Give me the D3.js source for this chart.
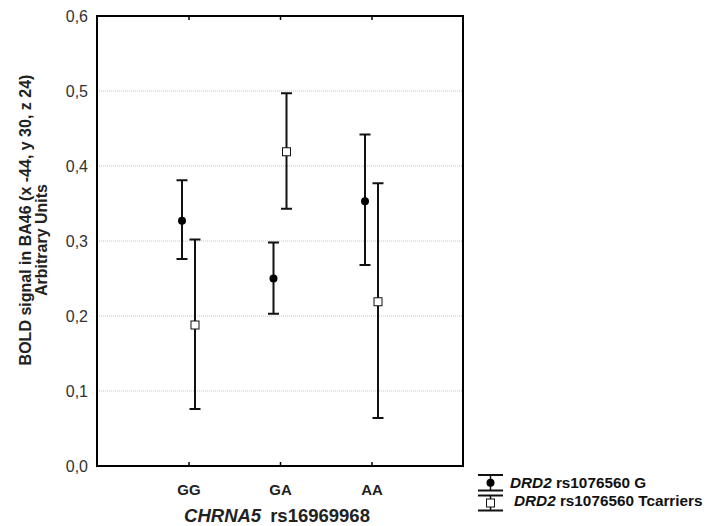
<!DOCTYPE html>
<html>
<head>
<meta charset="utf-8">
<script src="https://cdn.jsdelivr.net/npm/d3@7"></script>
<style>
  body { margin: 0; background: #fff; }
  text { font-family: "Liberation Sans", Arial, sans-serif; }
</style>
</head>
<body>
<div id="svg-container"></div>
<script>
// genotypes on the x axis
const categories = ["GG", "GA", "AA"]
// DRD2 rs1076560 G (filled dots)
const gMean = [0.327, 0.250, 0.353]
const gLow = [0.276, 0.203, 0.268]
const gHigh = [0.381, 0.298, 0.442]
// DRD2 rs1076560 T carriers (open squares)
const tMean = [0.188, 0.419, 0.219]
const tLow = [0.076, 0.343, 0.064]
const tHigh = [0.302, 0.497, 0.377]
const yTicks = [0, 0.1, 0.2, 0.3, 0.4, 0.5, 0.6]

const width = 713, height = 526
const plotLeft = 97, plotRight = 463, plotTop = 16, plotBottom = 466

let svg = d3.select('#svg-container')
    .append('svg')
    .attr('width', width)
    .attr('height', height)

let x = d3.scalePoint().domain(categories).range([plotLeft, plotRight]).padding(1)
let y = d3.scaleLinear().domain([0, 0.6]).range([plotBottom, plotTop])
const fmt = d => d3.format('.1f')(d).replace('.', ',')

// dotted grid
svg.selectAll('.grid')
    .data(yTicks.filter(d => d > 0 && d < 0.6))
    .enter().append('line')
    .attr('x1', plotLeft).attr('x2', plotRight)
    .attr('y1', d => y(d)).attr('y2', d => y(d))
    .attr('stroke', '#c4c4c4')
    .attr('stroke-width', 1)
    .attr('stroke-dasharray', '1,1')

// left axis labels
let yAxis = d3.axisLeft(y).tickValues(yTicks).tickFormat(fmt).tickSize(0).tickPadding(9)
let gy = svg.append('g').attr('transform', `translate(${plotLeft},0)`).call(yAxis)
gy.select('.domain').remove()
gy.selectAll('text').attr('font-size', 16).attr('fill', '#333')
    .style('font-family', '"Liberation Sans", Arial, sans-serif')

// bottom axis labels, ticks point inward
let xAxis = d3.axisBottom(x).tickSizeInner(-4).tickSizeOuter(0).tickPadding(18)
let gx = svg.append('g').attr('transform', `translate(0,${plotBottom})`).call(xAxis)
gx.select('.domain').remove()
gx.selectAll('line').attr('stroke', '#000').attr('stroke-width', 1.5)
gx.selectAll('text').attr('font-size', 15).attr('font-weight', 'bold').attr('fill', '#222')
    .style('font-family', '"Liberation Sans", Arial, sans-serif')

// top ticks
let gt = svg.append('g').attr('transform', `translate(0,${plotTop})`)
    .call(d3.axisTop(x).tickSizeInner(-4).tickSizeOuter(0).tickFormat(''))
gt.select('.domain').remove()
gt.selectAll('line').attr('stroke', '#000').attr('stroke-width', 1.5)

// frame
svg.append('rect')
    .attr('x', plotLeft).attr('y', plotTop)
    .attr('width', plotRight - plotLeft).attr('height', plotBottom - plotTop)
    .attr('fill', 'none').attr('stroke', '#000').attr('stroke-width', 2)

// error bars
const drawSeries = (mean, low, high, dx, square) => {
    let g = svg.append('g')
    let rows = categories.map((c, i) => ({c: c, m: mean[i], lo: low[i], hi: high[i]}))
    g.selectAll('.bar').data(rows).enter().append('line')
        .attr('x1', d => x(d.c) + dx).attr('x2', d => x(d.c) + dx)
        .attr('y1', d => y(d.lo)).attr('y2', d => y(d.hi))
        .attr('stroke', '#111').attr('stroke-width', 2)
    g.selectAll('.capHi').data(rows).enter().append('line')
        .attr('x1', d => x(d.c) + dx - 5.5).attr('x2', d => x(d.c) + dx + 5.5)
        .attr('y1', d => y(d.hi)).attr('y2', d => y(d.hi))
        .attr('stroke', '#111').attr('stroke-width', 2)
    g.selectAll('.capLo').data(rows).enter().append('line')
        .attr('x1', d => x(d.c) + dx - 5.5).attr('x2', d => x(d.c) + dx + 5.5)
        .attr('y1', d => y(d.lo)).attr('y2', d => y(d.lo))
        .attr('stroke', '#111').attr('stroke-width', 2)
    if (square) {
        g.selectAll('.pt').data(rows).enter().append('rect')
            .attr('x', d => x(d.c) + dx - 4).attr('y', d => y(d.m) - 4)
            .attr('width', 8).attr('height', 8)
            .attr('fill', '#fff').attr('stroke', '#111').attr('stroke-width', 1)
    } else {
        g.selectAll('.pt').data(rows).enter().append('circle')
            .attr('cx', d => x(d.c) + dx).attr('cy', d => y(d.m))
            .attr('r', 4).attr('fill', '#000')
    }
}
drawSeries(gMean, gLow, gHigh, -6.5, false)
drawSeries(tMean, tLow, tHigh, 6.5, true)

// y axis title (two lines)
svg.append('text')
    .attr('transform', 'translate(31,220) rotate(-90)')
    .attr('text-anchor', 'middle')
    .attr('font-size', 16).attr('font-weight', 'bold').attr('fill', '#222')
    .text('BOLD signal in BA46 (x -44, y 30, z 24)')
svg.append('text')
    .attr('transform', 'translate(47,240) rotate(-90)')
    .attr('text-anchor', 'middle')
    .attr('font-size', 16).attr('font-weight', 'bold').attr('fill', '#222')
    .text('Arbitrary Units')

// x axis title
let xt = svg.append('text')
    .attr('x', 277).attr('y', 522)
    .attr('text-anchor', 'middle')
    .attr('font-size', 18.5).attr('font-weight', 'bold').attr('fill', '#222')
xt.append('tspan').attr('font-style', 'italic').text('CHRNA5')
xt.append('tspan').attr('dx', 9).text('rs16969968')

// legend
const legendItems = [
    {name: ' rs1076560 G', sq: false, y0: 475, y1: 490.5, tx: 510, ty: 488},
    {name: ' rs1076560 Tcarriers', sq: true, y0: 495.5, y1: 510.5, tx: 514, ty: 506}
]
let lg = svg.selectAll('.legend').data(legendItems).enter().append('g').attr('class', 'legend')
lg.append('line').attr('x1', 490.5).attr('x2', 490.5)
    .attr('y1', d => d.y0).attr('y2', d => d.y1)
    .attr('stroke', '#111').attr('stroke-width', 1.5)
lg.append('line').attr('x1', 478).attr('x2', 503)
    .attr('y1', d => d.y0).attr('y2', d => d.y0)
    .attr('stroke', '#111').attr('stroke-width', 2)
lg.append('line').attr('x1', 478).attr('x2', 503)
    .attr('y1', d => d.y1).attr('y2', d => d.y1)
    .attr('stroke', '#111').attr('stroke-width', 2)
lg.filter(d => !d.sq).append('circle')
    .attr('cx', 490.5).attr('cy', d => (d.y0 + d.y1) / 2).attr('r', 4).attr('fill', '#000')
lg.filter(d => d.sq).append('rect')
    .attr('x', 486.5).attr('y', d => (d.y0 + d.y1) / 2 - 4)
    .attr('width', 8).attr('height', 8)
    .attr('fill', '#fff').attr('stroke', '#111').attr('stroke-width', 1)
let lt = lg.append('text')
    .attr('x', d => d.tx).attr('y', d => d.ty)
    .attr('font-size', 15.3).attr('font-weight', 'bold').attr('fill', '#111')
lt.append('tspan').attr('font-style', 'italic').text('DRD2')
lt.append('tspan').text(d => d.name)
</script>
</body>
</html>
